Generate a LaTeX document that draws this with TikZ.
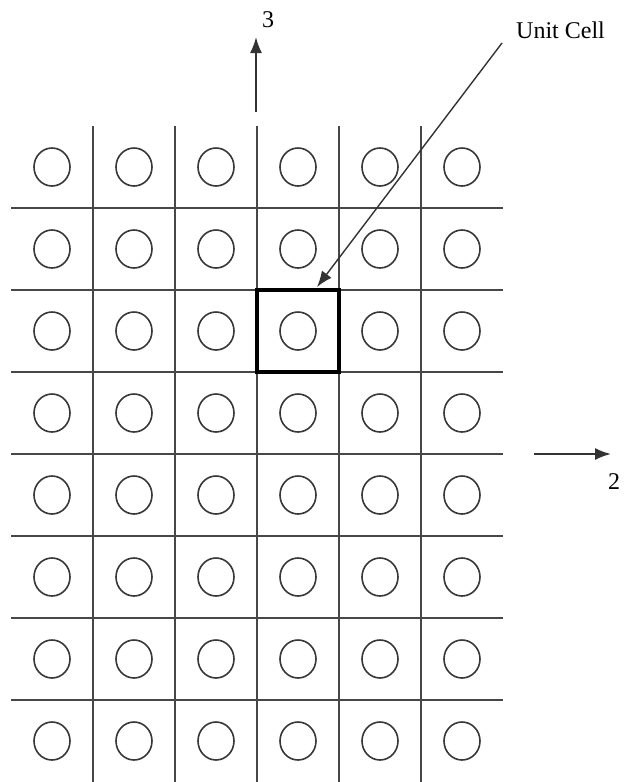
\documentclass[tikz,border=0pt]{standalone}
\usepackage{fontspec}
\setmainfont{Liberation Serif}
\usetikzlibrary{arrows.meta}
\begin{document}
\begin{tikzpicture}[x=1pt,y=-1pt,
  gridline/.style={draw=black!72,line width=1.8},
  holecirc/.style={draw=black!78,line width=1.6},
  cellbox/.style={draw=black,line width=3.4},
  axisarrow/.style={draw=black!80,line width=1.8,-{Latex[length=16,width=12]}},
  lbl/.style={font=\fontsize{24}{28}\selectfont,inner sep=0pt}]
\useasboundingbox (0,0) rectangle (624,782);
% vertical grid lines
\foreach \x [count=\i] in {93,175,257,339,421}
  \draw[gridline] (\x,126) -- (\x,782);
% horizontal grid lines
\foreach \y [count=\j] in {208,290,372,454,536,618,700}
  \draw[gridline] (11,\y) -- (503,\y);
% circles
\foreach \x [count=\i] in {52,134,216,298,380,462}
  \foreach \y [count=\j] in {167,249,331,413,495,577,659,741}
    \draw[holecirc] (\x,\y) ellipse [x radius=18,y radius=19];
% unit cell
\node[cellbox,minimum width=82,minimum height=82,inner sep=0pt] (cell) at (298,331) {};
% axis 3
\coordinate (a3s) at (256,112);
\coordinate (a3e) at (256,37);
\draw[axisarrow] (a3s) -- (a3e);
\node[lbl] (l3) at (268,20) {3};
% axis 2
\coordinate (a2s) at (534,454);
\coordinate (a2e) at (611,454);
\draw[axisarrow] (a2s) -- (a2e);
\node[lbl] (l2) at (614,482) {2};
% unit cell label and arrow
\node[lbl,anchor=west] (uc) at (516,30) {Unit Cell};
\coordinate (ucs) at (502,43);
\coordinate (uce) at (317,287);
\draw[axisarrow,line width=1.4] (ucs) -- (uce);
\end{tikzpicture}
\end{document}
